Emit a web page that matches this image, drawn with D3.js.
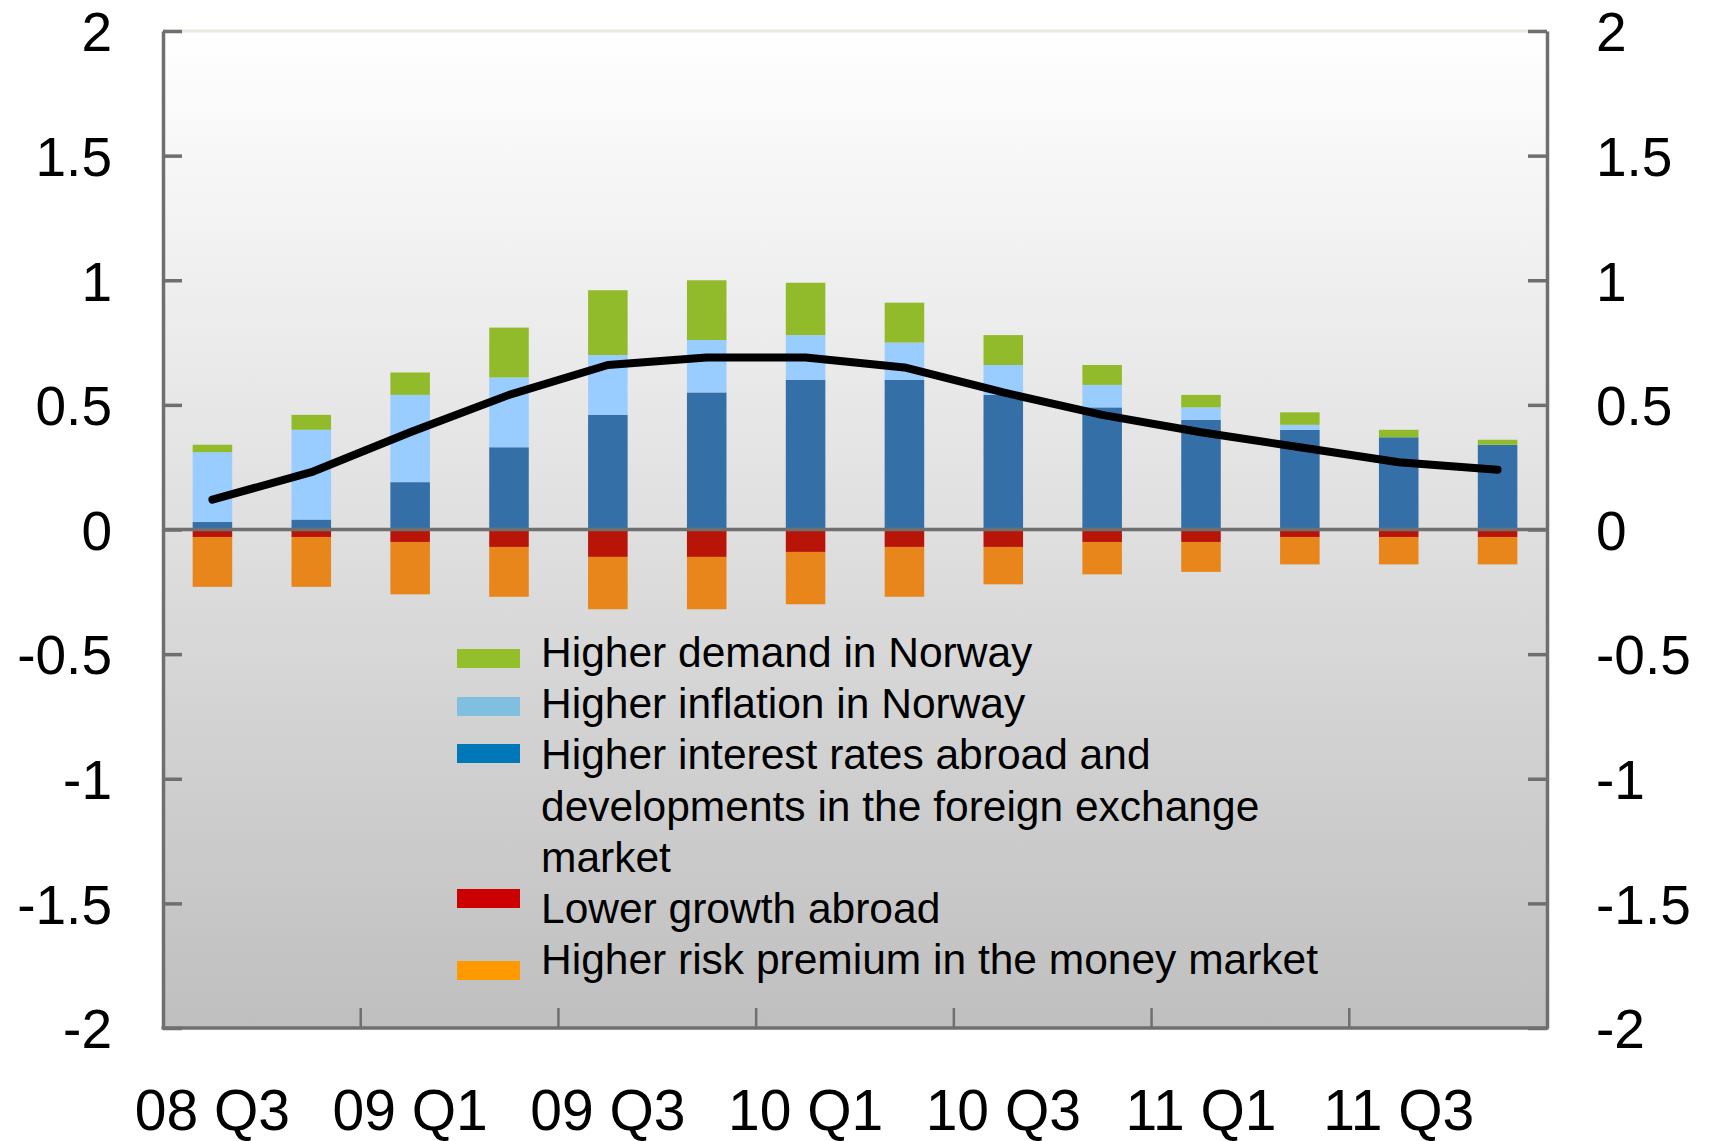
<!DOCTYPE html>
<html lang="en">
<head>
<meta charset="UTF-8">
<title>Contributions</title>
<script src="https://cdn.jsdelivr.net/npm/d3@7"></script>
<style>
    body { margin: 0; background: #fff; }
    svg text { font-family: "Liberation Sans", Arial, sans-serif; fill: #000; }
</style>
</head>
<body>
<svg width="1710" height="1141"></svg>
<script>
    // quarters on the x axis
    var categories = ["08 Q3", "08 Q4", "09 Q1", "09 Q2", "09 Q3", "09 Q4", "10 Q1",
        "10 Q2", "10 Q3", "10 Q4", "11 Q1", "11 Q2", "11 Q3", "11 Q4"];

    // stacked contributions (percentage points)
    var ratesAbroad = [0.03, 0.04, 0.19, 0.33, 0.46, 0.55, 0.60, 0.60, 0.54, 0.49, 0.44, 0.40, 0.37, 0.34];
    var inflationNorway = [0.28, 0.36, 0.35, 0.28, 0.24, 0.21, 0.18, 0.15, 0.12, 0.09, 0.05, 0.02, 0.0, 0.0];
    var demandNorway = [0.03, 0.06, 0.09, 0.20, 0.26, 0.24, 0.21, 0.16, 0.12, 0.08, 0.05, 0.05, 0.03, 0.02];
    var growthAbroad = [-0.03, -0.03, -0.05, -0.07, -0.11, -0.11, -0.09, -0.07, -0.07, -0.05, -0.05, -0.03, -0.03, -0.03];
    var riskPremium = [-0.20, -0.20, -0.21, -0.20, -0.21, -0.21, -0.21, -0.20, -0.15, -0.13, -0.12, -0.11, -0.11, -0.11];

    // total (black line)
    var total = [0.12, 0.23, 0.39, 0.54, 0.66, 0.69, 0.69, 0.65, 0.55, 0.46, 0.39, 0.33, 0.27, 0.24];

    var yTicks = [2, 1.5, 1, 0.5, 0, -0.5, -1, -1.5, -2];

    var series = [
        {key: "rates", name: "Higher interest rates abroad and|developments in the foreign exchange|market", values: ratesAbroad, bar: "#3470a7", swatch: "#0077b7"},
        {key: "inflation", name: "Higher inflation in Norway", values: inflationNorway, bar: "#99ccff", swatch: "#80bfdf"},
        {key: "demand", name: "Higher demand in Norway", values: demandNorway, bar: "#92bb2c", swatch: "#92bf2a"},
        {key: "growth", name: "Lower growth abroad", values: growthAbroad, bar: "#b81407", swatch: "#cc0000"},
        {key: "risk", name: "Higher risk premium in the money market", values: riskPremium, bar: "#e8861b", swatch: "#ff9900"}
    ];

    var svg = d3.select("svg");
    var plotLeft = 163, plotRight = 1547, plotTop = 31, plotBottom = 1028;
    var axisGrey = "#6f6f6f";
    var fontStack = '"Liberation Sans", Arial, sans-serif';

    var x = d3.scaleBand().domain(categories).range([plotLeft, plotRight])
        .paddingInner(0.6).paddingOuter(0.3);
    var y = d3.scaleLinear().domain([-2, 2]).range([plotBottom, plotTop]);

    // background gradient
    var grad = svg.append("defs").append("linearGradient")
        .attr("id", "bg").attr("x1", 0).attr("y1", 0).attr("x2", 0).attr("y2", 1);
    grad.append("stop").attr("offset", "0%").attr("stop-color", "#ffffff");
    grad.append("stop").attr("offset", "100%").attr("stop-color", "#bfbfbf");

    svg.append("rect")
        .attr("x", plotLeft).attr("y", plotTop)
        .attr("width", plotRight - plotLeft).attr("height", plotBottom - plotTop)
        .attr("fill", "url(#bg)");

    // stacked bars
    var table = categories.map(function (c, i) {
        var row = {cat: c};
        series.forEach(function (s) { row[s.key] = s.values[i]; });
        return row;
    });

    var stack = d3.stack()
        .keys(series.map(function (s) { return s.key; }))
        .offset(d3.stackOffsetDiverging);

    var layers = stack(table);

    svg.append("g").selectAll("g")
        .data(layers)
        .enter().append("g")
        .attr("fill", function (d, i) { return series[i].bar; })
        .selectAll("rect")
        .data(function (d) { return d; })
        .enter().append("rect")
        .attr("x", function (d) { return x(d.data.cat); })
        .attr("width", x.bandwidth())
        .attr("y", function (d) { return y(Math.max(d[0], d[1])); })
        .attr("height", function (d) { return Math.abs(y(d[0]) - y(d[1])); });

    // zero line
    svg.append("line")
        .attr("x1", plotLeft).attr("x2", plotRight)
        .attr("y1", y(0)).attr("y2", y(0))
        .attr("stroke", axisGrey).attr("stroke-width", 3.5);

    // total line
    var line = d3.line()
        .x(function (d, i) { return x(categories[i]) + x.bandwidth() / 2; })
        .y(function (d) { return y(d); });

    svg.append("path")
        .datum(total)
        .attr("d", line)
        .attr("fill", "none")
        .attr("stroke", "#000")
        .attr("stroke-width", 8)
        .attr("stroke-linejoin", "round")
        .attr("stroke-linecap", "round");

    // frame
    svg.append("line")
        .attr("x1", plotLeft).attr("x2", plotRight).attr("y1", plotTop).attr("y2", plotTop)
        .attr("stroke", "#ebe8df").attr("stroke-width", 3);

    var fmt = function (d) { return String(d); };

    var yLeft = svg.append("g")
        .attr("transform", "translate(" + plotLeft + ",0)")
        .call(d3.axisLeft(y).tickValues(yTicks).tickFormat(fmt)
            .tickSize(-19).tickSizeOuter(0).tickPadding(51));

    var yRight = svg.append("g")
        .attr("transform", "translate(" + plotRight + ",0)")
        .call(d3.axisRight(y).tickValues(yTicks).tickFormat(fmt)
            .tickSize(-19).tickSizeOuter(0).tickPadding(49));

    [yLeft, yRight].forEach(function (g) {
        g.select(".domain").attr("stroke", axisGrey).attr("stroke-width", 3.5);
        g.selectAll(".tick line").attr("stroke", axisGrey).attr("stroke-width", 3.5);
        g.selectAll(".tick text")
            .attr("font-size", 55)
            .attr("dy", "0.36em")
            .style("font-family", fontStack);
    });

    // x axis: ticks between every second quarter, labels on odd quarters
    var labelCats = categories.filter(function (d, i) { return i % 2 === 0; });
    var xAxis = svg.append("g")
        .attr("transform", "translate(0," + plotBottom + ")")
        .call(d3.axisBottom(x).tickValues(labelCats).tickSize(0).tickPadding(62));
    xAxis.select(".domain").remove();
    xAxis.selectAll(".tick text")
        .attr("font-size", 57)
        .attr("dy", "0.71em")
        .style("font-family", fontStack);

    var boundaries = categories.slice(1, -1).filter(function (d, i) { return i % 2 === 1; });
    svg.append("g").selectAll("line")
        .data(boundaries)
        .enter().append("line")
        .attr("x1", function (d) { return x(d) - x.step() * x.paddingInner() / 2; })
        .attr("x2", function (d) { return x(d) - x.step() * x.paddingInner() / 2; })
        .attr("y1", plotBottom - 20).attr("y2", plotBottom)
        .attr("stroke", axisGrey).attr("stroke-width", 2.5);

    svg.append("line")
        .attr("x1", plotLeft - 1.5).attr("x2", plotRight + 1.5)
        .attr("y1", plotBottom).attr("y2", plotBottom)
        .attr("stroke", axisGrey).attr("stroke-width", 3.5);

    // legend
    var legendOrder = ["demand", "inflation", "rates", "growth", "risk"];
    var swatchTops = [649, 697, 744, 889, 961];
    var legend = svg.append("g");
    var row = 0;
    legendOrder.forEach(function (k, i) {
        var s = series.find(function (d) { return d.key === k; });
        legend.append("rect")
            .attr("x", 457).attr("y", swatchTops[i])
            .attr("width", 63).attr("height", 19)
            .attr("fill", s.swatch);
        s.name.split("|").forEach(function (t) {
            legend.append("text")
                .attr("x", 541).attr("y", 667 + row * 51.2)
                .attr("font-size", 42.5)
                .text(t);
            row++;
        });
    });
</script>
</body>
</html>
